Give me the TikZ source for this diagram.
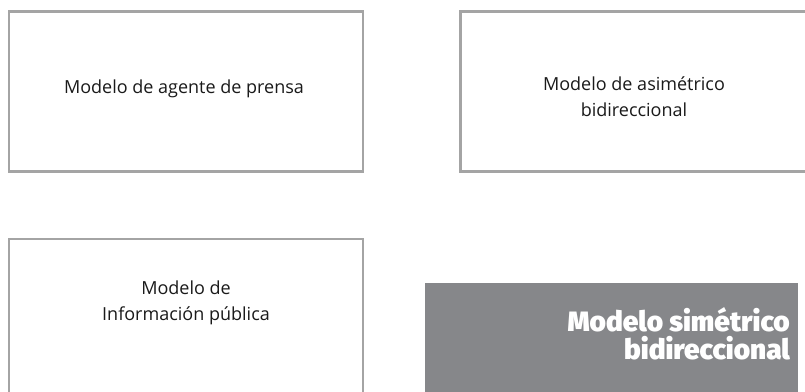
\documentclass[tikz,border=0pt]{standalone}
\usepackage{fontspec}
\setmainfont{Open Sans}
\newfontfamily\heavyfont{Fira Sans Black}
\definecolor{boxgray}{HTML}{A4A4A4}
\definecolor{fillgray}{HTML}{86878A}
\definecolor{txtgray}{HTML}{1A1A1A}
\begin{document}
\begin{tikzpicture}[x=1pt,y=-1pt,
  box/.style={draw=boxgray, line width=2.6pt, fill=white, inner sep=0pt},
  lbl/.style={font=\fontsize{18}{26}\selectfont, text=txtgray, align=center, inner sep=0pt},
  heavylbl/.style={font=\heavyfont\fontsize{28}{28.5}\selectfont, text=white, align=right, inner sep=0pt}]
\useasboundingbox (0,0) rectangle (805,391);
% boxes
\node[box, minimum width=354pt, minimum height=160pt] (b1) at (186,91.3) {};
\node[box, minimum width=347pt, minimum height=160pt] (b2) at (634,91.3) {};
\node[box, minimum width=354pt, minimum height=160pt] (b3) at (186,319) {};
\node[fill=fillgray, inner sep=0pt, minimum width=373pt, minimum height=120pt] (b4) at (611.5,342.7) {};
% labels
\node[lbl] (t1) at (184,88.5) {Modelo de agente de prensa};
\node[lbl] (t2) at (634,97) {Modelo de asimétrico\\bidireccional};
\node[lbl] (t3) at (186,302.5) {Modelo de\\Información pública};
\node[heavylbl, anchor=east] (t4) at (790,334) {Modelo simétrico\\bidireccional};
\end{tikzpicture}
\end{document}
